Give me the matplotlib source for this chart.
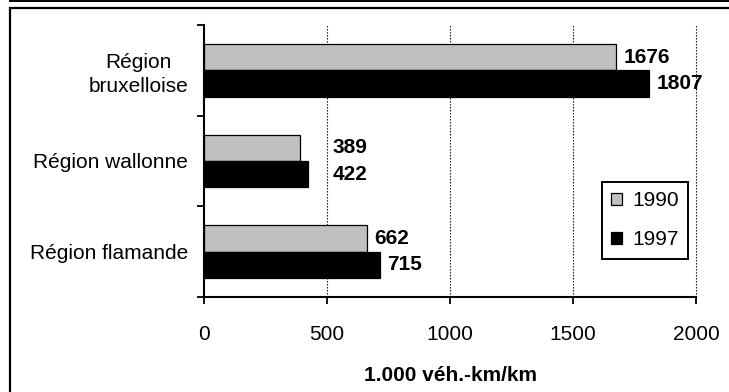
import matplotlib
matplotlib.use("Agg")
import matplotlib.pyplot as plt
from matplotlib.patches import Rectangle
from matplotlib.lines import Line2D
import numpy as np

plt.rcParams['font.family'] = ['Liberation Sans', 'DejaVu Sans']

regions = ["Région\nbruxelloise", "Région wallonne", "Région flamande"]
years = ["1990", "1997"]
vals_1990 = [1676, 389, 662]
vals_1997 = [1807, 422, 715]

W, H = 729, 392
FS = 15
fig = plt.figure(figsize=(W / 100, H / 100), dpi=100)
ax = fig.add_axes([204 / W, 1 - 297 / H, (696 - 204) / W, (297 - 25) / H])

# categories from top to bottom
pos = np.array([2.5, 1.5, 0.5])
bh = 0.29
ax.barh(pos + bh / 2, vals_1990, bh, color='#c0c0c0', edgecolor='black', linewidth=0.9,
        label=years[0], zorder=3)
ax.barh(pos - bh / 2, vals_1997, bh, color='black', edgecolor='black', linewidth=0.9,
        label=years[1], zorder=3)

# value labels; the wallonne ones sit further right in the original
shift_wal = 524
for i in range(3):
    for v, y in [(vals_1990[i], pos[i] + bh / 2), (vals_1997[i], pos[i] - bh / 2)]:
        if i == 1:
            xy, off = (shift_wal, y), 0
        else:
            xy, off = (v, y), 5.5
        ax.annotate(str(v), xy, xytext=(off, 0), textcoords='offset points',
                    va='center', ha='left', fontsize=FS, fontweight='bold')

ax.set_xlim(0, 2000)
ax.set_ylim(0, 3)
ax.set_xticks([0, 500, 1000, 1500, 2000])
ax.tick_params(axis='x', direction='out', length=5, width=1.3, pad=15, labelsize=FS)
ax.set_yticks([0, 1, 2, 3])
ax.set_yticklabels([])
ax.tick_params(axis='y', direction='out', length=5, width=1.3)
ax.set_yticks(pos, minor=True)
ax.set_yticklabels(regions, minor=True, fontsize=FS, ha='right', multialignment='center',
                   linespacing=1.3)
ax.tick_params(axis='y', which='minor', length=0, pad=11.5)

for s in ['top', 'right']:
    ax.spines[s].set_visible(False)
for s in ['left', 'bottom']:
    ax.spines[s].set_linewidth(1.5)
    ax.spines[s].set_zorder(4)

for xv in [500, 1000, 1500, 2000]:
    ax.axvline(xv, color='black', linestyle=(0, (1.2, 1.5)), linewidth=0.8, zorder=1, clip_on=False)

ax.set_xlabel("1.000 véh.-km/km", fontsize=FS, fontweight='bold', labelpad=16)

leg = ax.legend(loc='upper left', bbox_to_anchor=(602 / W, 1 - 182 / H), bbox_transform=fig.transFigure,
                fontsize=FS, frameon=True, fancybox=False, handlelength=0.5, handleheight=0.5,
                handletextpad=0.5, borderpad=0.45, labelspacing=0.95, borderaxespad=0)
leg.get_frame().set_edgecolor('black')
leg.get_frame().set_linewidth(1.4)
leg.get_frame().set_alpha(None)

# outer frame of the original picture
fig.patches.append(Rectangle((10 / W, -0.05), 1.0, 1 - 7.5 / H + 0.05, transform=fig.transFigure,
                             fill=False, edgecolor='black', linewidth=1.6))
fig.lines.append(Line2D([10 / W, 1], [1 - 0.8 / H, 1 - 0.8 / H], transform=fig.transFigure,
                        color='black', linewidth=1.4))

fig.savefig("out.png", dpi=100)
